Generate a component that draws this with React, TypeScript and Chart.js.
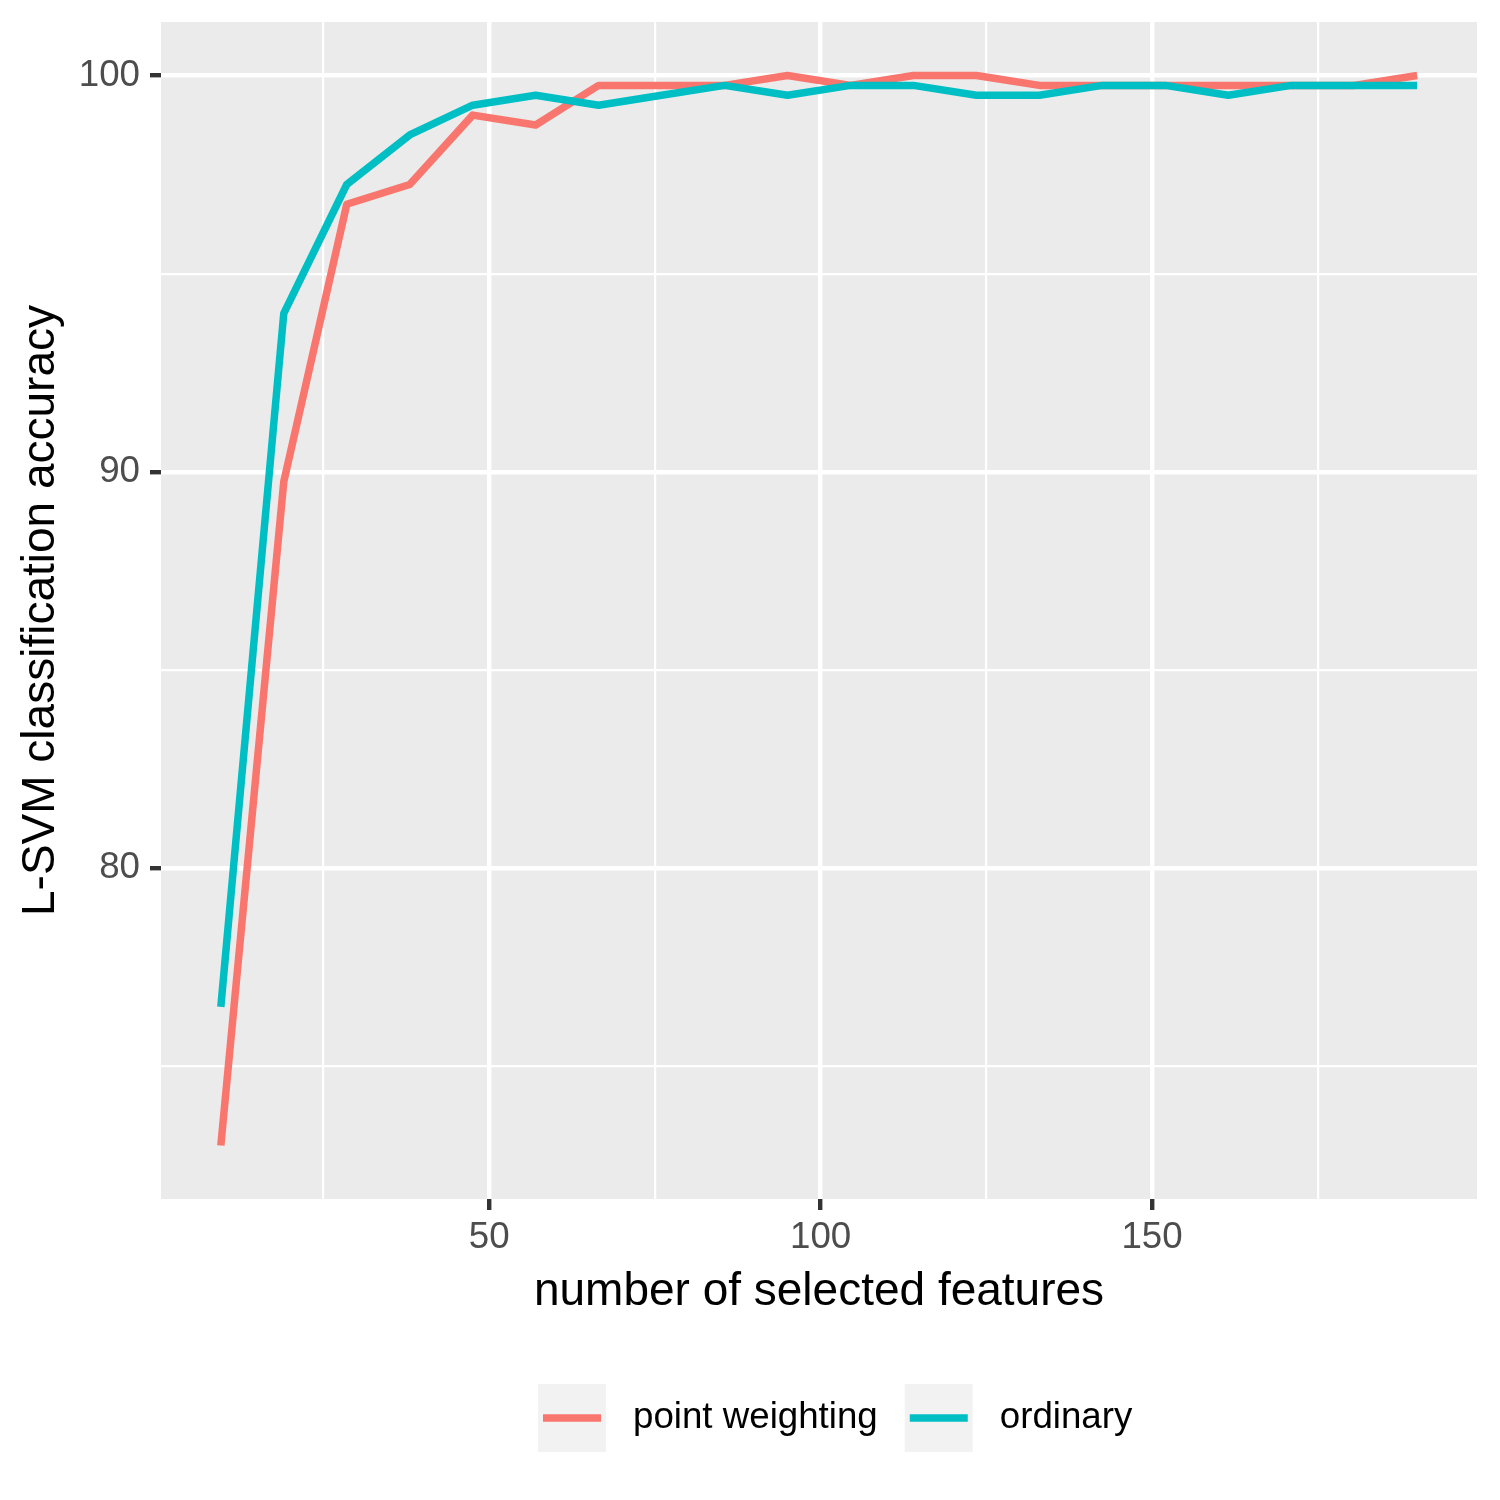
import React, { useEffect, useRef } from 'react';
import { Chart, registerables } from 'chart.js';

Chart.register(...registerables);

// ---- data ----
const features = [9.5, 19, 28.5, 38, 47.5, 57, 66.5, 76, 85.5, 95, 104.5, 114, 123.5, 133, 142.5, 152, 161.5, 171, 180.5, 190];
const pointWeighting = [73.0, 89.75, 96.75, 97.25, 99.0, 98.75, 99.75, 99.75, 99.75, 100, 99.75, 100, 100, 99.75, 99.75, 99.75, 99.75, 99.75, 99.75, 100];
const ordinary = [76.5, 94.0, 97.25, 98.5, 99.25, 99.5, 99.25, 99.5, 99.75, 99.5, 99.75, 99.75, 99.5, 99.5, 99.75, 99.75, 99.5, 99.75, 99.75, 99.75];
const seriesLabels = ['point weighting', 'ordinary'];
const seriesColors = ['#F8766D', '#00BFC4'];

const xMajorTicks = [50, 100, 150];
const xMinorTicks = [25, 75, 125, 175];
const yMajorTicks = [80, 90, 100];
const yMinorTicks = [75, 85, 95];

const xTitle = 'number of selected features';
const yTitle = 'L-SVM classification accuracy';

const FONT = 'Arial, "Liberation Sans", Helvetica, sans-serif';

export default function App() {
  const ref = useRef<HTMLCanvasElement>(null);

  useEffect(() => {
    document.body.style.margin = '0';
    const canvas = ref.current;
    if (!canvas) return;

    const allY = [...pointWeighting, ...ordinary];
    const yLo = Math.min(...allY);
    const yHi = Math.max(...allY);
    const yPad = (yHi - yLo) * 0.05;
    const xLo = Math.min(...features);
    const xHi = Math.max(...features);
    const xPad = (xHi - xLo) * 0.05;

    const panelBg = {
      id: 'panelBg',
      beforeDraw(chart: any) {
        const { ctx, chartArea: a } = chart;
        ctx.save();
        ctx.fillStyle = '#FFFFFF';
        ctx.fillRect(0, 0, chart.width, chart.height);
        ctx.fillStyle = '#EBEBEB';
        ctx.fillRect(a.left, a.top, a.right - a.left, a.bottom - a.top);
        ctx.restore();
      },
    };

    const ggLegend = {
      id: 'ggLegend',
      afterDraw(chart: any) {
        const ctx = chart.ctx;
        ctx.save();
        ctx.font = `36.7px ${FONT}`;
        const keySize = 68;
        const gap = 27;
        const top = 1384;
        let x = 538;
        chart.data.datasets.forEach((ds: any) => {
          ctx.fillStyle = '#F2F2F2';
          ctx.fillRect(x, top, keySize, keySize);
          ctx.strokeStyle = ds.borderColor;
          ctx.lineWidth = 7.5;
          ctx.lineCap = 'butt';
          ctx.beginPath();
          ctx.moveTo(x + 5, top + keySize / 2);
          ctx.lineTo(x + keySize - 5, top + keySize / 2);
          ctx.stroke();
          x += keySize + gap;
          ctx.fillStyle = '#000000';
          ctx.textBaseline = 'middle';
          ctx.textAlign = 'left';
          ctx.fillText(ds.label, x, top + keySize / 2);
          x += ctx.measureText(ds.label).width + gap;
        });
        ctx.restore();
      },
    };

    const isMajorX = (v: number) => xMajorTicks.includes(v);
    const isMajorY = (v: number) => yMajorTicks.includes(v);

    const chart = new Chart(canvas, {
      type: 'line',
      data: {
        datasets: [
          {
            label: seriesLabels[0],
            data: features.map((f, i) => ({ x: f, y: pointWeighting[i] })),
            borderColor: seriesColors[0],
            backgroundColor: seriesColors[0],
            borderWidth: 7.5,
            pointRadius: 0,
            tension: 0,
            borderJoinStyle: 'round',
            borderCapStyle: 'butt',
            order: 1,
          },
          {
            label: seriesLabels[1],
            data: features.map((f, i) => ({ x: f, y: ordinary[i] })),
            borderColor: seriesColors[1],
            backgroundColor: seriesColors[1],
            borderWidth: 7.5,
            pointRadius: 0,
            tension: 0,
            borderJoinStyle: 'round',
            borderCapStyle: 'butt',
            order: 0,
          },
        ],
      },
      options: {
        responsive: false,
        maintainAspectRatio: false,
        devicePixelRatio: 1,
        animation: false,
        layout: { padding: { top: 22, right: 23, bottom: 185, left: 0 } },
        plugins: {
          legend: { display: false },
          tooltip: { enabled: false },
        },
        scales: {
          x: {
            type: 'linear',
            min: xLo - xPad,
            max: xHi + xPad,
            afterBuildTicks: (s: any) => {
              s.ticks = [...xMinorTicks, ...xMajorTicks].sort((a, b) => a - b).map((v) => ({ value: v }));
            },
            afterFit: (s: any) => {
              s.height = 116;
              s.paddingLeft = 0;
              s.paddingRight = 0;
            },
            border: { display: false },
            grid: {
              color: '#FFFFFF',
              lineWidth: (c: any) => (c.tick && isMajorX(c.tick.value) ? 4.4 : 2.2),
              tickColor: (c: any) => (c.tick && isMajorX(c.tick.value) ? '#333333' : 'rgba(0,0,0,0)'),
              tickWidth: 4.4,
              tickLength: 11,
              drawTicks: true,
            },
            ticks: {
              autoSkip: false,
              maxRotation: 0,
              padding: 10,
              color: '#4D4D4D',
              font: { family: FONT, size: 36.7, lineHeight: 1 },
              callback: (v: any) => (isMajorX(Number(v)) ? String(v) : ''),
            },
            title: {
              display: true,
              text: xTitle,
              color: '#000000',
              font: { family: FONT, size: 46, lineHeight: 1 },
              padding: 0,
            },
          },
          y: {
            type: 'linear',
            min: yLo - yPad,
            max: yHi + yPad,
            afterBuildTicks: (s: any) => {
              s.ticks = [...yMinorTicks, ...yMajorTicks].sort((a, b) => a - b).map((v) => ({ value: v }));
            },
            afterFit: (s: any) => {
              s.width = 161;
              s.paddingTop = 0;
              s.paddingBottom = 0;
            },
            border: { display: false },
            grid: {
              color: '#FFFFFF',
              lineWidth: (c: any) => (c.tick && isMajorY(c.tick.value) ? 4.4 : 2.2),
              tickColor: (c: any) => (c.tick && isMajorY(c.tick.value) ? '#333333' : 'rgba(0,0,0,0)'),
              tickWidth: 4.4,
              tickLength: 11,
              drawTicks: true,
            },
            ticks: {
              autoSkip: false,
              padding: 10,
              color: '#4D4D4D',
              font: { family: FONT, size: 36.7, lineHeight: 1 },
              callback: (v: any) => (isMajorY(Number(v)) ? String(v) : ''),
            },
            title: {
              display: true,
              text: yTitle,
              color: '#000000',
              font: { family: FONT, size: 46, lineHeight: 1 },
              padding: { top: 18, bottom: 0 },
            },
          },
        },
      },
      plugins: [panelBg, ggLegend],
    } as any);

    return () => {
      chart.destroy();
    };
  }, []);

  return (
    <div style={{ position: 'absolute', left: 0, top: 0, width: 1500, height: 1500 }}>
      <canvas ref={ref} width={1500} height={1500} style={{ display: 'block', width: 1500, height: 1500 }} />
    </div>
  );
}
